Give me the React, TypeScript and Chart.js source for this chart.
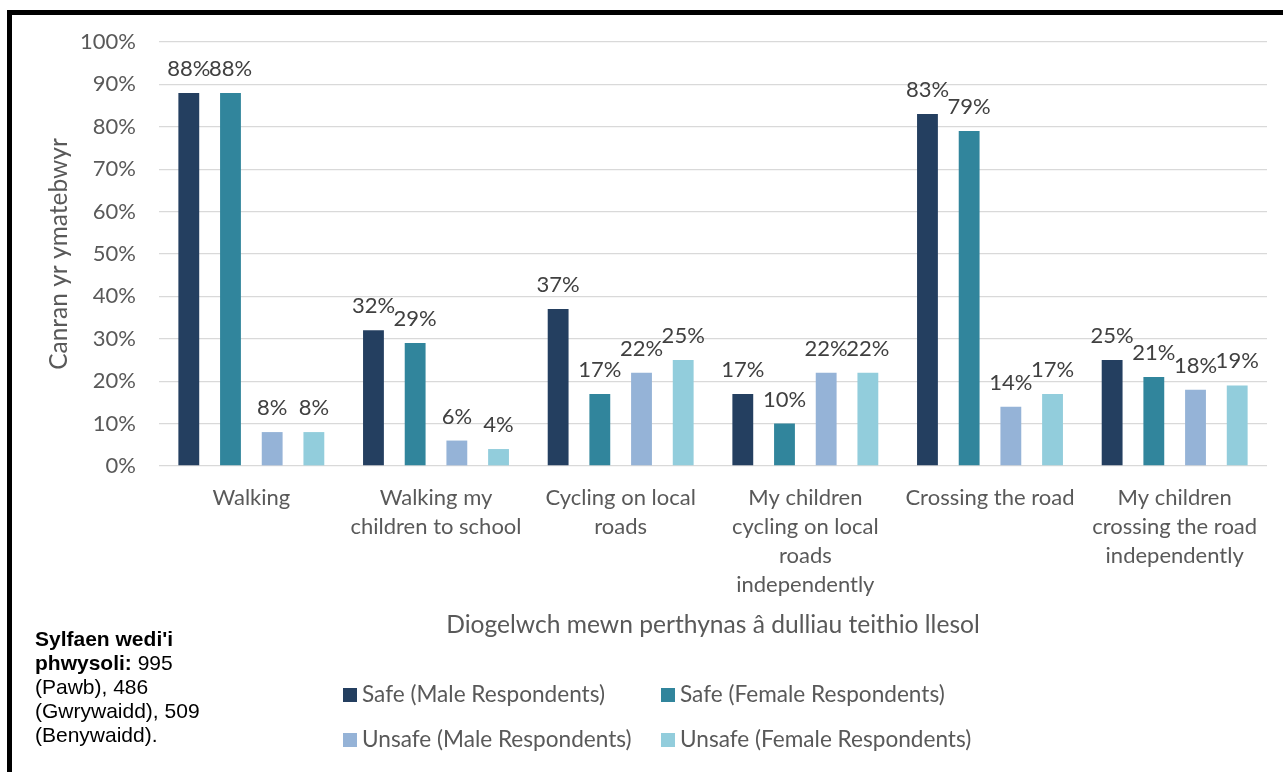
import React, { useEffect, useRef } from "react";
import { Chart, registerables } from "chart.js";

Chart.register(...registerables);

const categories: (string | string[])[] = [
  "Walking",
  ["Walking my", "children to school"],
  ["Cycling on local", "roads"],
  ["My children", "cycling on local", "roads", "independently"],
  "Crossing the road",
  ["My children", "crossing the road", "independently"],
];

const seriesLabels = [
  "Safe (Male Respondents)",
  "Safe (Female Respondents)",
  "Unsafe (Male Respondents)",
  "Unsafe (Female Respondents)",
];

const safeMale = [88, 32, 37, 17, 83, 25];
const safeFemale = [88, 29, 17, 10, 79, 21];
const unsafeMale = [8, 6, 22, 22, 14, 18];
const unsafeFemale = [8, 4, 25, 22, 17, 19];

const seriesColors = ["#243F60", "#31859C", "#95B3D7", "#92CDDC"];

const yAxisTitle = "Canran yr ymatebwyr";
const xAxisTitle = "Diogelwch mewn perthynas â dulliau teithio llesol";

const FONT = "Lato, 'Open Sans', sans-serif";
const GREY = "#595959";

const W = 1283;
const H = 772;

const dataLabelPlugin = {
  id: "dataLabels",
  afterDatasetsDraw(chart: any) {
    const ctx = chart.ctx;
    ctx.save();
    ctx.font = `22px ${FONT}`;
    ctx.fillStyle = "#404040";
    ctx.textAlign = "center";
    ctx.textBaseline = "alphabetic";
    chart.data.datasets.forEach((ds: any, di: number) => {
      const meta = chart.getDatasetMeta(di);
      meta.data.forEach((bar: any, i: number) => {
        ctx.fillText(`${ds.data[i]}%`, bar.x, bar.y - 17);
      });
    });
    ctx.restore();
  },
};

const legendPlugin = {
  id: "customLegend",
  afterDraw(chart: any) {
    const ctx = chart.ctx;
    ctx.save();
    ctx.font = `22.6px ${FONT}`;
    ctx.textBaseline = "alphabetic";
    ctx.textAlign = "left";
    const cols = [343, 661];
    const rows = [702, 747];
    chart.data.datasets.forEach((ds: any, i: number) => {
      const x = cols[i % 2];
      const y = rows[Math.floor(i / 2)];
      ctx.fillStyle = ds.backgroundColor;
      ctx.fillRect(x, y - 14, 14, 14);
      ctx.fillStyle = GREY;
      ctx.fillText(ds.label, x + 19, y);
    });
    ctx.restore();
  },
};

export default function App() {
  const ref = useRef<HTMLCanvasElement | null>(null);

  useEffect(() => {
    if (!ref.current) return;
    const series = [safeMale, safeFemale, unsafeMale, unsafeFemale];
    const chart = new Chart(ref.current, {
      type: "bar",
      data: {
        labels: categories,
        datasets: series.map((d, i) => ({
          label: seriesLabels[i],
          data: d,
          backgroundColor: seriesColors[i],
          borderWidth: 0,
          categoryPercentage: 0.903,
          barPercentage: 0.5,
        })),
      },
      options: {
        responsive: false,
        animation: false,
        devicePixelRatio: 1,
        layout: { padding: { left: 0, right: 16, top: 42, bottom: 0 } },
        plugins: {
          legend: { display: false },
          tooltip: { enabled: false },
        },
        scales: {
          x: {
            grid: { display: false },
            border: { display: false },
            ticks: {
              autoSkip: false,
              maxRotation: 0,
              minRotation: 0,
              padding: 9,
              color: GREY,
              font: { family: FONT, size: 22, lineHeight: 29 / 22 },
            },
            title: {
              display: true,
              text: xAxisTitle,
              color: GREY,
              font: { family: FONT, size: 24.6, lineHeight: 1.2 },
              padding: { top: 0, bottom: 132 },
            },
            afterFit(scale: any) {
              scale.height = 306;
            },
          },
          y: {
            min: 0,
            max: 100,
            grid: { color: "#D9D9D9", lineWidth: 1.3, drawTicks: false },
            border: { display: false },
            ticks: {
              stepSize: 10,
              padding: 23,
              color: GREY,
              font: { family: FONT, size: 22 },
              callback: (v: any) => `${v}%`,
            },
            title: {
              display: true,
              text: yAxisTitle,
              color: GREY,
              font: { family: FONT, size: 24.5, lineHeight: 1.2 },
              padding: { top: 44, bottom: 0 },
            },
            afterFit(scale: any) {
              scale.width = 159;
            },
          },
        },
      },
      plugins: [dataLabelPlugin, legendPlugin],
    });
    return () => chart.destroy();
  }, []);

  return (
    <div
      style={{
        position: "fixed",
        left: 0,
        top: 0,
        width: W,
        height: H,
        overflow: "hidden",
        background: "#fff",
      }}
    >
      <div
        style={{
          position: "absolute",
          left: 7,
          top: 10,
          width: 1400,
          height: 900,
          borderTop: "5px solid #000",
          borderLeft: "5px solid #000",
        }}
      />
      <canvas
        ref={ref}
        width={W}
        height={H}
        style={{ position: "absolute", left: 0, top: 0, width: W, height: H }}
      />
      <div
        style={{
          position: "absolute",
          left: 35,
          top: 626.6,
          fontFamily: "'Liberation Sans', Arial, sans-serif",
          fontSize: 21,
          lineHeight: "24.2px",
          color: "#000",
          whiteSpace: "nowrap",
        }}
      >
        <b>Sylfaen wedi'i</b>
        <br />
        <b>phwysoli:</b> 995
        <br />
        (Pawb), 486
        <br />
        (Gwrywaidd), 509
        <br />
        (Benywaidd).
      </div>
    </div>
  );
}
